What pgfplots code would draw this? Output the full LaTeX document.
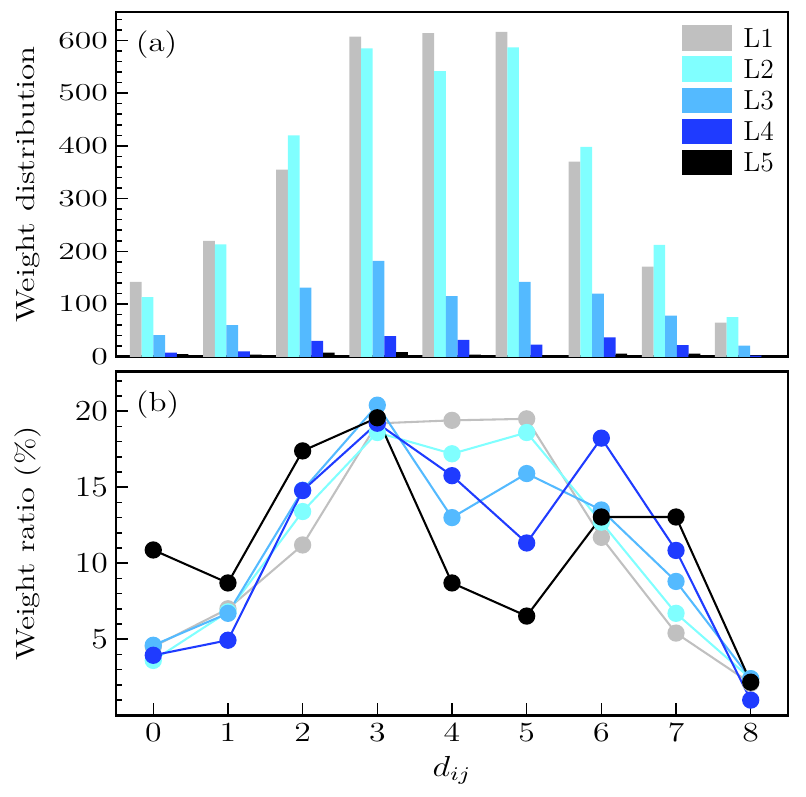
\documentclass[border=0pt]{standalone}
\usepackage{pgfplots}
\pgfplotsset{compat=1.18}
\usepackage{graphicx}
\definecolor{cA}{RGB}{192,192,192}
\definecolor{cB}{RGB}{128,255,255}
\definecolor{cC}{RGB}{84,186,255}
\definecolor{cD}{RGB}{31,59,255}
\definecolor{cE}{RGB}{0,0,0}
\begin{document}
\begin{tikzpicture}[font=\fontsize{12}{14.4}\selectfont]
\path[use as bounding box] (-50.4pt,-35.2pt) rectangle (300pt,310.9pt);
\pgfplotsset{
  every axis/.append style={
    scale only axis, width=292.2pt,
    axis line style={line width=1.2pt},
    tick align=inside, tick pos=left,
    major tick length=5.2pt, minor tick length=2.6pt,
    tick style={black, line width=0.65pt},
    tick label style={font=\fontsize{12}{14.4}\selectfont},
    label style={font=\fontsize{12}{14.4}\selectfont},
    ylabel style={at={(axis description cs:-0.131,0.5)}, anchor=center},
  }
}
% ---------------- bottom panel (b)
\begin{axis}[
  at={(0pt,0pt)}, anchor=south west, height=149.3pt,
  xmin=-0.5, xmax=8.5, ymin=0, ymax=22.6,
  xtick={0,...,8}, ytick={5,10,15,20}, minor ytick={0,1,...,22},
  xticklabel={\scalebox{1.22}[1]{$\pgfmathprintnumber{\tick}$}},
  yticklabel={\scalebox{1.22}[1.05]{$\pgfmathprintnumber{\tick}$}},
  xlabel={\scalebox{1.25}[1.05]{$d_{ij}$}}, ylabel={\scalebox{1.17}[0.95]{Weight ratio (\%)}},
  xlabel style={at={(axis description cs:0.5,-0.16)}, anchor=center},
  every axis plot/.append style={line width=0.9pt, mark=*, mark size=3.3pt},
]
\addplot[cA, mark options={fill=cA, draw=cA}] coordinates {(0,4.5) (1,7.0) (2,11.2) (3,19.2) (4,19.4) (5,19.5) (6,11.7) (7,5.4) (8,2.1)};
\addplot[cB, mark options={fill=cB, draw=cB}] coordinates {(0,3.6) (1,6.8) (2,13.4) (3,18.6) (4,17.2) (5,18.6) (6,12.7) (7,6.7) (8,2.4)};
\addplot[cC, mark options={fill=cC, draw=cC}] coordinates {(0,4.6) (1,6.7) (2,14.8) (3,20.4) (4,13.0) (5,15.9) (6,13.5) (7,8.8) (8,2.4)};
\addplot[cD, mark options={fill=cD, draw=cD}] coordinates {(0,3.94) (1,4.93) (2,14.78) (3,19.21) (4,15.76) (5,11.33) (6,18.23) (7,10.84) (8,0.99)};
\addplot[cE, mark options={fill=cE, draw=cE}] coordinates {(0,10.87) (1,8.70) (2,17.39) (3,19.57) (4,8.70) (5,6.52) (6,13.04) (7,13.04) (8,2.17)};
\node[anchor=north west, inner sep=0pt] at (rel axis cs:0.029,0.945) {\scalebox{1.2}[1]{(b)}};
\end{axis}
% ---------------- top panel (a)
\begin{axis}[
  at={(0pt,155.8pt)}, anchor=south west, height=149.9pt,
  xmin=-0.592, xmax=8.60, ymin=0, ymax=654,
  xtick=\empty, ytick={0,100,...,600}, minor ytick={0,20,...,640},
  yticklabel={\scalebox{1.22}[0.88]{$\pgfmathprintnumber{\tick}$}},
  ylabel={\scalebox{1.2}[0.95]{Weight distribution}},
  ybar=0pt, bar width=0.16,
  every axis plot post/.append style={legend image code/.code={\fill[#1] (0pt,-5.45pt) rectangle (21.7pt,5.45pt);}},
  legend style={draw=none, fill=none, inner sep=0pt, at={(rel axis cs:0.8418,0.9623)}, anchor=north west,
    nodes={inner sep=0pt, text height=8.2pt, text depth=0pt}, row sep=2.6pt,
    /tikz/every odd column/.style={column sep=4.9pt}},
  legend cell align=left,
]
\addplot[fill=cA, draw=none] coordinates {(0,142) (1,220) (2,355) (3,607) (4,614) (5,616) (6,370) (7,171) (8,65)};
\addplot[fill=cB, draw=none] coordinates {(0,113) (1,213) (2,420) (3,585) (4,542) (5,587) (6,398) (7,212) (8,75)};
\addplot[fill=cC, draw=none] coordinates {(0,41) (1,60) (2,131) (3,182) (4,115) (5,142) (6,120) (7,78) (8,21)};
\addplot[fill=cD, draw=none] coordinates {(0,8) (1,10) (2,30) (3,39) (4,32) (5,23) (6,37) (7,22) (8,2)};
\addplot[fill=cE, draw=none] coordinates {(0,5) (1,4) (2,8) (3,9) (4,4) (5,3) (6,6) (7,6) (8,1)};
\legend{L1,L2,L3,L4,L5}
\node[anchor=north west, inner sep=0pt] at (rel axis cs:0.029,0.948) {\scalebox{1.2}[1]{(a)}};
\end{axis}
\end{tikzpicture}
\end{document}
